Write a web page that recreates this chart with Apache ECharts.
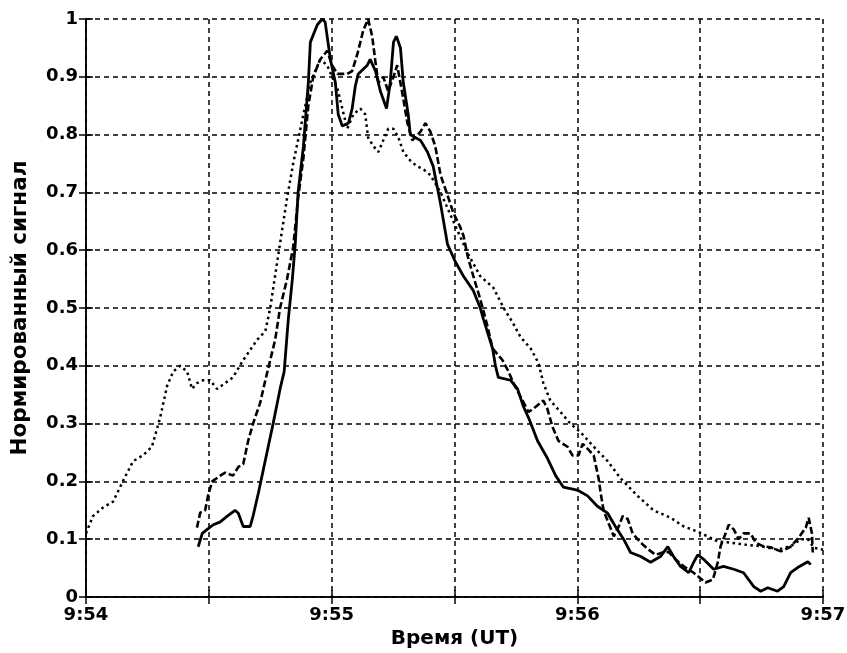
<!DOCTYPE html>
<html>
<head>
<meta charset="utf-8">
<script src="https://cdn.jsdelivr.net/npm/echarts@6/dist/echarts.min.js"></script>
<style>
  html, body { margin: 0; padding: 0; background: #fff; }
  #chart { width: 847px; height: 653px; }
</style>
</head>
<body>
<div id="chart"></div>
<script>
// time in seconds after 9:54:00 UT, normalised signal

// solid curve
const solidT = [27.4, 28.4, 29.6, 31.1, 32.8, 34.5, 36.4, 37.2, 38.4, 40.1, 40.8, 42.1, 43.3, 44.5, 45.7, 47.4, 48.4, 49.4, 50.4, 51.1, 51.8, 53.1, 54.3, 54.8, 56.5, 57.7, 58.4, 58.9, 59.7, 60.9, 61.6, 62.6, 64.1, 65.0, 65.8, 66.5, 68.7, 69.4, 70.7, 71.9, 73.4, 74.3, 75.1, 75.8, 76.8, 77.5, 78.7, 79.2, 80.4, 81.7, 83.4, 84.8, 86.6, 88.3, 90.2, 92.2, 94.6, 96.3, 97.1, 99.3, 100.0, 100.7, 103.7, 105.4, 106.8, 108.1, 110.3, 112.7, 114.7, 116.6, 120.0, 122.5, 124.9, 127.4, 129.3, 131.3, 133.0, 135.5, 137.9, 140.3, 142.1, 143.5, 145.2, 147.2, 148.4, 149.4, 150.9, 153.3, 155.7, 158.2, 160.6, 163.1, 164.8, 166.5, 168.9, 170.4, 172.1, 173.8, 176.3, 177.0];
const solidY = [0.087, 0.11, 0.117, 0.125, 0.13, 0.14, 0.15, 0.145, 0.122, 0.122, 0.14, 0.18, 0.22, 0.26, 0.30, 0.36, 0.39, 0.48, 0.55, 0.61, 0.70, 0.78, 0.89, 0.96, 0.99, 1.0, 0.995, 0.97, 0.93, 0.89, 0.835, 0.815, 0.82, 0.845, 0.885, 0.905, 0.92, 0.93, 0.91, 0.875, 0.845, 0.89, 0.96, 0.97, 0.95, 0.89, 0.835, 0.80, 0.795, 0.79, 0.77, 0.745, 0.68, 0.61, 0.58, 0.555, 0.53, 0.50, 0.48, 0.43, 0.40, 0.38, 0.375, 0.36, 0.33, 0.31, 0.27, 0.24, 0.21, 0.19, 0.185, 0.175, 0.157, 0.145, 0.122, 0.10, 0.077, 0.07, 0.06, 0.07, 0.087, 0.07, 0.053, 0.042, 0.06, 0.073, 0.065, 0.048, 0.053, 0.048, 0.042, 0.018, 0.01, 0.016, 0.01, 0.018, 0.042, 0.051, 0.061, 0.056];

// dashed curve
const dashedT = [27.1, 27.9, 29.1, 29.8, 30.8, 32.8, 34.0, 35.9, 37.2, 38.4, 39.6, 40.8, 42.5, 43.8, 45.0, 46.2, 47.4, 49.1, 50.6, 51.8, 53.1, 54.3, 55.5, 57.2, 58.9, 60.1, 61.4, 63.8, 65.0, 66.3, 67.7, 68.9, 69.9, 70.7, 71.4, 72.6, 73.8, 75.1, 76.0, 77.3, 78.5, 79.7, 81.7, 82.9, 84.1, 85.3, 86.6, 88.3, 89.7, 91.4, 92.2, 93.2, 94.6, 96.3, 98.0, 99.3, 101.7, 103.2, 104.4, 106.6, 108.1, 110.0, 111.7, 112.7, 113.9, 115.4, 117.6, 118.8, 120.3, 121.3, 122.7, 124.0, 125.2, 125.7, 126.4, 127.6, 128.9, 130.1, 131.1, 132.3, 133.5, 135.5, 137.4, 139.1, 140.8, 142.3, 144.0, 146.0, 148.4, 149.6, 151.3, 153.1, 154.3, 155.0, 156.2, 157.0, 158.2, 159.4, 160.6, 162.3, 163.6, 165.3, 167.2, 169.7, 172.1, 174.1, 175.8, 176.5, 177.3, 177.5];
const dashedY = [0.12, 0.146, 0.15, 0.175, 0.20, 0.21, 0.215, 0.21, 0.225, 0.23, 0.27, 0.30, 0.335, 0.375, 0.41, 0.445, 0.50, 0.55, 0.605, 0.69, 0.76, 0.85, 0.90, 0.93, 0.945, 0.92, 0.905, 0.905, 0.91, 0.94, 0.98, 1.0, 0.97, 0.925, 0.89, 0.90, 0.875, 0.90, 0.92, 0.87, 0.82, 0.79, 0.805, 0.82, 0.805, 0.78, 0.73, 0.695, 0.665, 0.64, 0.625, 0.59, 0.555, 0.515, 0.47, 0.43, 0.41, 0.39, 0.37, 0.34, 0.32, 0.33, 0.34, 0.325, 0.295, 0.27, 0.26, 0.245, 0.245, 0.265, 0.255, 0.245, 0.205, 0.18, 0.15, 0.128, 0.105, 0.122, 0.14, 0.135, 0.11, 0.094, 0.082, 0.073, 0.077, 0.078, 0.065, 0.053, 0.042, 0.035, 0.025, 0.03, 0.06, 0.088, 0.11, 0.125, 0.117, 0.10, 0.11, 0.11, 0.094, 0.088, 0.086, 0.079, 0.087, 0.103, 0.12, 0.137, 0.11, 0.077];

// dotted curve
const dottedT = [0, 1.7, 4.2, 6.6, 9.0, 11.5, 13.9, 16.1, 18.1, 19.8, 21.3, 23.0, 24.7, 25.9, 27.1, 28.6, 30.3, 32.0, 34.0, 35.9, 38.4, 41.8, 43.8, 45.0, 46.7, 47.9, 49.1, 50.6, 53.1, 54.8, 57.2, 58.9, 60.1, 61.4, 62.6, 63.8, 65.3, 67.0, 68.2, 68.9, 70.2, 71.4, 72.6, 73.8, 75.1, 76.3, 77.5, 79.2, 80.9, 82.4, 84.1, 86.6, 89.7, 93.2, 96.3, 99.5, 102.0, 104.2, 106.1, 108.6, 110.5, 111.7, 113.4, 115.9, 118.3, 120.8, 124.0, 127.4, 130.6, 134.7, 138.6, 142.8, 146.0, 149.4, 151.8, 154.3, 157.5, 161.6, 164.8, 168.9, 172.1, 174.6, 176.3, 177.8, 180];
const dottedY = [0.11, 0.14, 0.155, 0.165, 0.20, 0.235, 0.245, 0.26, 0.31, 0.365, 0.39, 0.40, 0.39, 0.36, 0.37, 0.375, 0.375, 0.36, 0.37, 0.38, 0.41, 0.445, 0.46, 0.50, 0.58, 0.635, 0.69, 0.75, 0.835, 0.89, 0.93, 0.92, 0.90, 0.88, 0.845, 0.81, 0.835, 0.845, 0.835, 0.795, 0.78, 0.77, 0.79, 0.81, 0.81, 0.795, 0.77, 0.755, 0.745, 0.74, 0.73, 0.70, 0.65, 0.595, 0.555, 0.535, 0.50, 0.475, 0.45, 0.43, 0.405, 0.37, 0.34, 0.32, 0.30, 0.285, 0.26, 0.235, 0.205, 0.175, 0.15, 0.137, 0.122, 0.113, 0.105, 0.096, 0.094, 0.09, 0.088, 0.082, 0.088, 0.10, 0.10, 0.085, 0.082];

const zip = (t, y) => t.map((v, i) => [v, y[i]]);

const font = 'DejaVu Sans';
const tickLabel = v => (v % 60 === 0 ? '9:' + (54 + v / 60) : '');
const yLabel = v => (v === 0 || v === 1 ? String(v) : v.toFixed(1));

let chart = echarts.init(document.getElementById('chart'));
chart.setOption({
  animation: false,
  backgroundColor: '#fff',
  grid: { left: 86, right: 24, top: 19, bottom: 56, outerBoundsMode: 'none' },
  xAxis: [
    {
      type: 'value', min: 0, max: 180, interval: 30,
      name: 'Время (UT)', nameLocation: 'middle', nameGap: 29,
      nameTextStyle: { color: '#000', fontFamily: font, fontWeight: 'bold', fontSize: 20 },
      axisLine: { lineStyle: { color: '#000', width: 1.5 } },
      axisTick: { inside: true, length: 7, lineStyle: { color: '#000', width: 1.5 } },
      axisLabel: { color: '#000', fontFamily: font, fontWeight: 'bold', fontSize: 18, margin: 9, formatter: tickLabel, showMinLabel: true, showMaxLabel: true },
      splitLine: { show: true, lineStyle: { color: '#000', width: 1.5, type: [5, 4] } }
    },
    {
      type: 'value', position: 'top', min: 0, max: 180, interval: 30,
      axisLine: { lineStyle: { color: '#000', width: 1.5 } },
      axisTick: { inside: true, length: 7, lineStyle: { color: '#000', width: 1.5 } },
      axisLabel: { show: false },
      splitLine: { show: false }
    }
  ],
  yAxis: [
    {
      type: 'value', min: 0, max: 1, interval: 0.1,
      name: 'Нормированный сигнал', nameLocation: 'middle', nameGap: 55,
      nameTextStyle: { color: '#000', fontFamily: font, fontWeight: 'bold', fontSize: 21.5 },
      axisLine: { show: true, lineStyle: { color: '#000', width: 1.5 } },
      axisTick: { show: true, inside: true, length: 7, lineStyle: { color: '#000', width: 1.5 } },
      axisLabel: { color: '#000', fontFamily: font, fontWeight: 'bold', fontSize: 18, margin: 8, formatter: yLabel },
      splitLine: { show: true, lineStyle: { color: '#000', width: 1.5, type: [5, 4] } }
    },
    {
      type: 'value', position: 'right', min: 0, max: 1, interval: 0.1,
      axisLine: { show: true, lineStyle: { color: '#000', width: 1.5 } },
      axisTick: { show: true, inside: true, length: 7, lineStyle: { color: '#000', width: 1.5 } },
      axisLabel: { show: false },
      splitLine: { show: false }
    }
  ],
  series: [
    {
      name: 'dotted', type: 'line', showSymbol: false, data: zip(dottedT, dottedY),
      lineStyle: { color: '#000', width: 2.5, type: [2.5, 3.5] }
    },
    {
      name: 'dashed', type: 'line', showSymbol: false, data: zip(dashedT, dashedY),
      lineStyle: { color: '#000', width: 2.6, type: [7, 3] }
    },
    {
      name: 'solid', type: 'line', showSymbol: false, data: zip(solidT, solidY),
      lineStyle: { color: '#000', width: 2.8 }
    }
  ]
});
</script>
</body>
</html>
